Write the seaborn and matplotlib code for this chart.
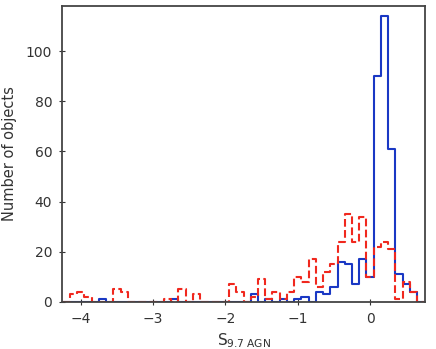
import matplotlib
matplotlib.use("Agg")
import matplotlib.pyplot as plt
import seaborn as sns
import numpy as np
import pandas as pd

sns.set_style("ticks")
plt.rcParams['font.family'] = ['DejaVu Sans']
plt.rcParams['mathtext.default'] = 'regular'

# bin centres (width 0.1) and counts, zero bins left out
blue_centres = [-3.7, -2.7, -1.6, -1.4, -1.2, -1.0, -0.9, -0.7, -0.6, -0.5,
                -0.4, -0.3, -0.2, -0.1, 0.0, 0.1, 0.2, 0.3, 0.4, 0.5, 0.6]
blue_counts = [1, 1, 3, 1, 1, 1, 2, 4, 3, 6,
               16, 15, 7, 17, 10, 90, 114, 61, 11, 7, 4]

red_centres = [-4.1, -4.0, -3.9, -3.5, -3.4, -2.8, -2.6, -2.4, -1.9, -1.8,
               -1.6, -1.5, -1.4, -1.3, -1.2, -1.1, -1.0, -0.9, -0.8, -0.7,
               -0.6, -0.5, -0.4, -0.3, -0.2, -0.1, 0.0, 0.1, 0.2, 0.3,
               0.4, 0.5, 0.6]
red_counts = [3, 4, 2, 5, 4, 1, 5, 3, 7, 4,
              2, 9, 1, 4, 1, 4, 10, 8, 17, 6,
              12, 15, 24, 35, 24, 34, 10, 22, 24, 21,
              1, 8, 4]

edges = [round(e, 2) for e in np.linspace(-4.25, 0.75, 51)]

blue_df = pd.DataFrame({"S": blue_centres, "N": blue_counts})
red_df = pd.DataFrame({"S": red_centres, "N": red_counts})

fig, ax = plt.subplots(figsize=(4.36, 3.49), dpi=100)
fig.subplots_adjust(left=0.142, right=0.975, top=0.983, bottom=0.135)

sns.histplot(data=blue_df, x="S", weights="N", bins=edges, element="step",
             fill=False, color="#1a38c4", linewidth=1.5, ax=ax)
sns.histplot(data=red_df, x="S", weights="N", bins=edges, element="step",
             fill=False, color="#f0281e", linewidth=1.5, linestyle="--", ax=ax)

ax.set_xlim(-4.26, 0.76)
ax.set_ylim(0, 118)
ax.set_xticks([-4, -3, -2, -1, 0])
ax.set_xticklabels(["\u22124", "\u22123", "\u22122", "\u22121", "0"])
ax.set_yticks([0, 20, 40, 60, 80, 100])
ax.tick_params(axis='both', direction='inout', labelsize=10, colors='#333333',
               length=4, width=0.8, pad=5)
for sp in ax.spines.values():
    sp.set_color('#444444')
    sp.set_linewidth(1.3)
    sp.set_zorder(5)
ax.set_xlabel(r"$S_{9.7\ AGN}$", fontsize=11, color='#333333', labelpad=4)
ax.set_ylabel("Number of objects", fontsize=10.5, color='#333333', labelpad=6)

plt.savefig("out.png", dpi=100)
